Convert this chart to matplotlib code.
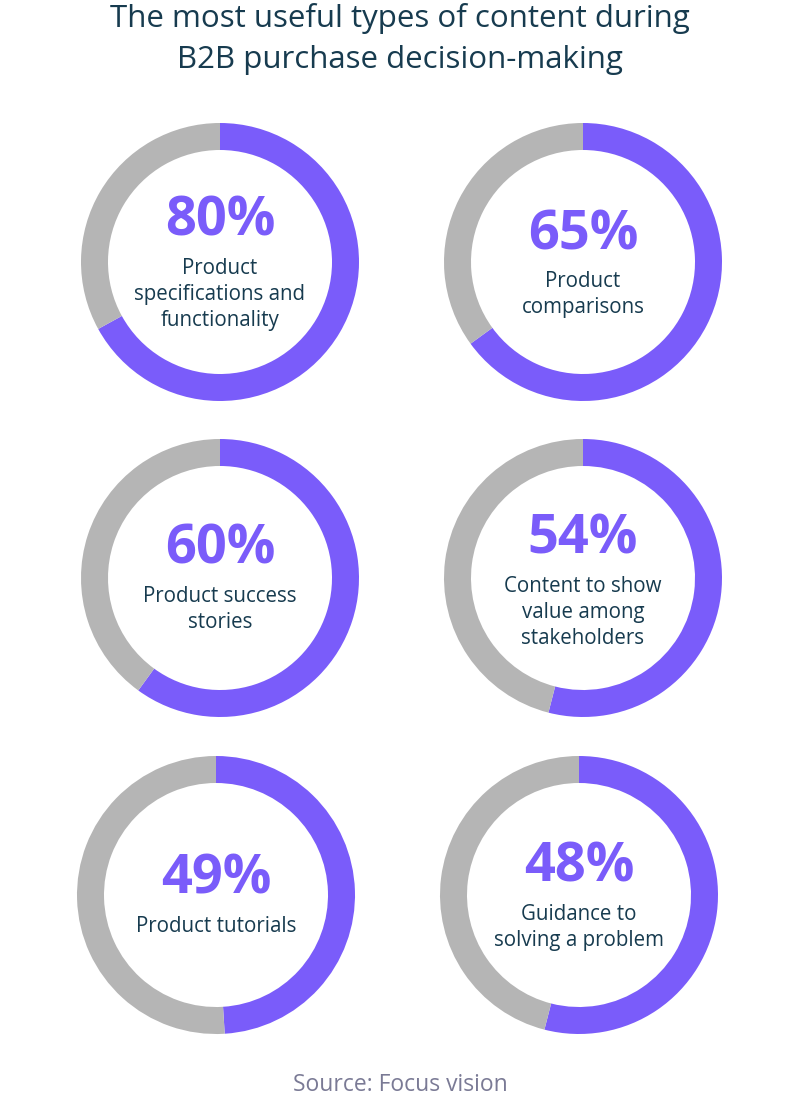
import matplotlib
matplotlib.use('Agg')
import matplotlib.pyplot as plt

# values printed in the rings
percents = [80, 65, 60, 54, 49, 48]
# share of ring drawn in purple
ring_fill = [67, 65, 60, 54, 49, 54]
labels = [
    'Product\nspecifications and\nfunctionality',
    'Product\ncomparisons',
    'Product success\nstories',
    'Content to show\nvalue among\nstakeholders',
    'Product tutorials',
    'Guidance to\nsolving a problem',
]

title = 'The most useful types of content during\nB2B purchase decision-making'
source = 'Source: Focus vision'

W, H = 800, 1116
purple = '#7a5cfa'
grey = '#b5b5b5'
navy = '#173b4f'

plt.rcParams['font.family'] = ['Open Sans', 'DejaVu Sans']

fig = plt.figure(figsize=(W / 100, H / 100), dpi=100)
ax = fig.add_axes([0, 0, 1, 1])

centers = [(220, 262), (583, 262), (220, 578), (583, 578), (216, 895), (579, 895)]
pct_y = [222, 235, 550, 540, 880, 868]
R, ring_w = 139, 27

for i in range(6):
    cx, cy = centers[i]
    ax.pie([ring_fill[i], 100 - ring_fill[i]], colors=[purple, grey],
           startangle=90, counterclock=False, radius=R, center=(cx, H - cy),
           wedgeprops=dict(width=ring_w, edgecolor='none', linewidth=0))
    ax.text(cx, H - pct_y[i], '{}%'.format(percents[i]), ha='center', va='center',
            fontsize=39, fontweight='bold', color=purple)
    ax.text(cx, H - pct_y[i] - 36, labels[i], ha='center', va='top',
            fontsize=14.8, color=navy, linespacing=1.32)

ax.text(W / 2, H - 39, title, ha='center', va='center', fontsize=22.5,
        color=navy, linespacing=1.45)
ax.text(W / 2, H - 1085, source, ha='center', va='center', fontsize=16.5,
        color='#7a7a95')

ax.set_xlim(0, W)
ax.set_ylim(0, H)
ax.set_aspect('auto')
ax.axis('off')

fig.savefig('out.png', dpi=100)
